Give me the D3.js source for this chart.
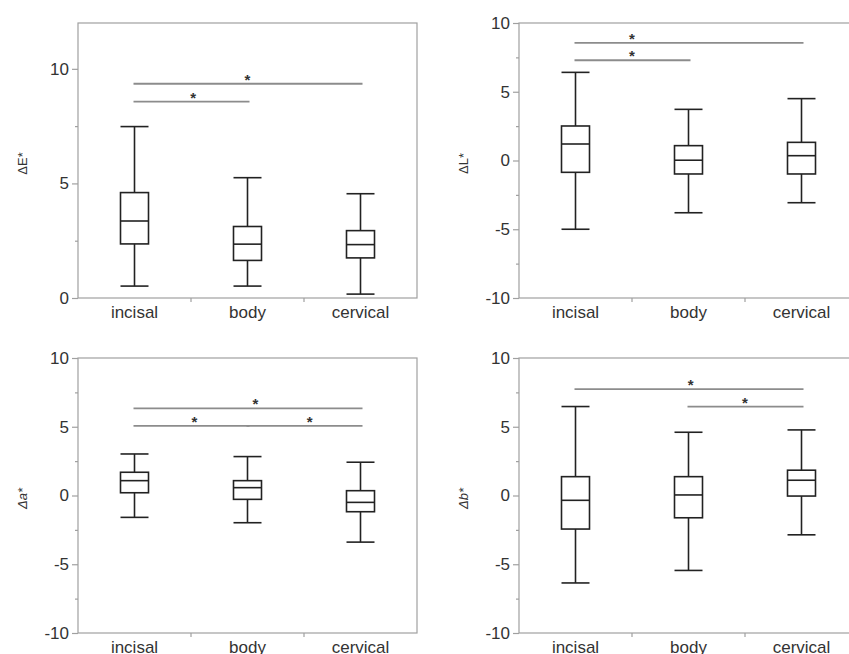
<!DOCTYPE html>
<html>
<head>
<meta charset="utf-8">
<script src="https://cdn.jsdelivr.net/npm/d3@7/dist/d3.min.js"></script>
<style>
  html, body { margin: 0; padding: 0; background: #fff; }
  svg { display: block; }
  text { font-family: "Liberation Sans", Arial, Helvetica, sans-serif; fill: #333; }
</style>
</head>
<body>
<svg id="chart" width="849" height="654"></svg>
<script>
// ---- Data ----
const categories = ["incisal", "body", "cervical"];

// each box: [whiskerLow, Q1, median, Q3, whiskerHigh]
const deltaE = [[0.52, 2.36, 3.36, 4.60, 7.48], [0.52, 1.64, 2.35, 3.12, 5.25], [0.17, 1.75, 2.33, 2.94, 4.55]];
const deltaL = [[-5.00, -0.86, 1.20, 2.51, 6.41], [-3.80, -0.98, 0.02, 1.08, 3.72], [-3.07, -0.98, 0.35, 1.32, 4.50]];
const deltaA = [[-1.59, 0.20, 1.08, 1.69, 3.02], [-1.98, -0.28, 0.57, 1.08, 2.83], [-3.39, -1.18, -0.50, 0.35, 2.42]];
const deltaB = [[-6.36, -2.44, -0.35, 1.37, 6.47], [-5.45, -1.62, 0.04, 1.37, 4.60], [-2.86, -0.04, 1.11, 1.84, 4.77]];

// significance bars: [fromIndex, toIndex, yValue, asterisk position (category index units)]
const sigE = [[0, 2, 9.35, 1.0], [0, 1, 8.57, 0.52]];
const sigL = [[0, 2, 8.55, 0.5], [0, 1, 7.29, 0.5]];
const sigA = [[0, 2, 6.33, 1.07], [0, 1, 5.07, 0.53], [1, 2, 5.07, 1.55]];
const sigB = [[0, 2, 7.74, 1.02], [1, 2, 6.47, 1.5]];

const yTicksE = [0, 5, 10];
const yMinorE = [2.5, 7.5];
const yTicksLab = [-10, -5, 0, 5, 10];
const yMinorLab = [-7.5, -2.5, 2.5, 7.5];

const yLabels = ["ΔE*", "ΔL*", "Δa*", "Δb*"];

// ---- Layout ----
const panels = [
  { left: 78,  right: 417, top: 23,  bottom: 298, domain: [0, 12],   ticks: yTicksE,   minor: yMinorE,   data: deltaE, sig: sigE, label: yLabels[0], labelX: 22,  italic: false },
  { left: 519, right: 858, top: 23,  bottom: 298, domain: [-10, 10], ticks: yTicksLab, minor: yMinorLab, data: deltaL, sig: sigL, label: yLabels[1], labelX: 463, italic: false },
  { left: 78,  right: 417, top: 358, bottom: 633, domain: [-10, 10], ticks: yTicksLab, minor: yMinorLab, data: deltaA, sig: sigA, label: yLabels[2], labelX: 22,  italic: true },
  { left: 519, right: 858, top: 358, bottom: 633, domain: [-10, 10], ticks: yTicksLab, minor: yMinorLab, data: deltaB, sig: sigB, label: yLabels[3], labelX: 463, italic: true }
];

const svg = d3.select("#chart");
const frameColor = "#a0a0a0";
const boxColor = "#222";
const sigColor = "#8c8c8c";
const boxW = 28;

panels.forEach(p => {
  const g = svg.append("g");
  const x = d3.scaleBand().domain(categories).range([p.left, p.right]).padding(0);
  const y = d3.scaleLinear().domain(p.domain).range([p.bottom, p.top]);
  const bw = x.bandwidth();
  const cx = c => x(c) + bw / 2;

  // frame
  g.append("rect")
    .attr("x", p.left).attr("y", p.top)
    .attr("width", p.right - p.left).attr("height", p.bottom - p.top)
    .attr("fill", "none").attr("stroke", frameColor).attr("stroke-width", 1.2);

  // y axis (major ticks)
  const yAxis = d3.axisLeft(y).tickValues(p.ticks).tickSize(6).tickPadding(3).tickFormat(d => String(d));
  const ya = g.append("g").attr("transform", `translate(${p.left},0)`).call(yAxis);
  ya.select(".domain").remove();
  ya.selectAll(".tick line").attr("stroke", frameColor).attr("stroke-width", 1.2);
  ya.selectAll(".tick text").attr("font-size", 17).attr("fill", "#333")
    .style("font-family", "'Liberation Sans', Arial, sans-serif");

  // minor ticks
  const ym = d3.axisLeft(y).tickValues(p.minor).tickSize(3).tickFormat("");
  const yma = g.append("g").attr("transform", `translate(${p.left},0)`).call(ym);
  yma.select(".domain").remove();
  yma.selectAll(".tick line").attr("stroke", frameColor).attr("stroke-width", 1.2);

  // x axis: labels at category centres, ticks at band boundaries
  const xAxis = d3.axisBottom(x).tickSize(0).tickPadding(8);
  const xa = g.append("g").attr("transform", `translate(0,${p.bottom})`).call(xAxis);
  xa.select(".domain").remove();
  xa.selectAll(".tick text").attr("font-size", 17).attr("fill", "#333")
    .style("font-family", "'Liberation Sans', Arial, sans-serif");
  const boundaries = categories.slice(1).map(c => x(c));
  g.selectAll(".xb").data(boundaries).enter().append("line")
    .attr("x1", d => d).attr("x2", d => d)
    .attr("y1", p.bottom).attr("y2", p.bottom + 4)
    .attr("stroke", frameColor).attr("stroke-width", 1.2);

  // y label
  g.append("text")
    .attr("transform", `translate(${p.labelX},${(p.top + p.bottom) / 2 + 3}) rotate(-90)`)
    .attr("text-anchor", "middle").attr("dominant-baseline", "central")
    .attr("font-size", 13)
    .style("font-style", p.italic ? "italic" : "normal")
    .text(p.label);

  // boxes
  const boxes = g.selectAll(".box").data(p.data.map((d, i) => ({ c: categories[i], v: d }))).enter().append("g");
  boxes.append("line") // whisker low
    .attr("x1", d => cx(d.c)).attr("x2", d => cx(d.c))
    .attr("y1", d => y(d.v[0])).attr("y2", d => y(d.v[1]))
    .attr("stroke", boxColor).attr("stroke-width", 1.6);
  boxes.append("line") // whisker high
    .attr("x1", d => cx(d.c)).attr("x2", d => cx(d.c))
    .attr("y1", d => y(d.v[3])).attr("y2", d => y(d.v[4]))
    .attr("stroke", boxColor).attr("stroke-width", 1.6);
  [0, 4].forEach(k => {
    boxes.append("line")
      .attr("x1", d => cx(d.c) - boxW / 2).attr("x2", d => cx(d.c) + boxW / 2)
      .attr("y1", d => y(d.v[k])).attr("y2", d => y(d.v[k]))
      .attr("stroke", boxColor).attr("stroke-width", 1.6);
  });
  boxes.append("rect")
    .attr("x", d => cx(d.c) - boxW / 2).attr("width", boxW)
    .attr("y", d => y(d.v[3])).attr("height", d => y(d.v[1]) - y(d.v[3]))
    .attr("fill", "none").attr("stroke", boxColor).attr("stroke-width", 1.6);
  boxes.append("line")
    .attr("x1", d => cx(d.c) - boxW / 2).attr("x2", d => cx(d.c) + boxW / 2)
    .attr("y1", d => y(d.v[2])).attr("y2", d => y(d.v[2]))
    .attr("stroke", boxColor).attr("stroke-width", 1.6);

  // significance bars
  const sg = g.selectAll(".sig").data(p.sig).enter().append("g");
  sg.append("line")
    .attr("x1", d => cx(categories[d[0]]) - 1).attr("x2", d => cx(categories[d[1]]) + 2)
    .attr("y1", d => y(d[2])).attr("y2", d => y(d[2]))
    .attr("stroke", sigColor).attr("stroke-width", 1.8);
  sg.append("text")
    .attr("x", d => cx(categories[0]) + d[3] * bw)
    .attr("y", d => y(d[2]) + 1)
    .attr("text-anchor", "middle")
    .attr("font-size", 15).attr("font-weight", "bold").attr("fill", "#222")
    .text("*");
});
</script>
</body>
</html>
